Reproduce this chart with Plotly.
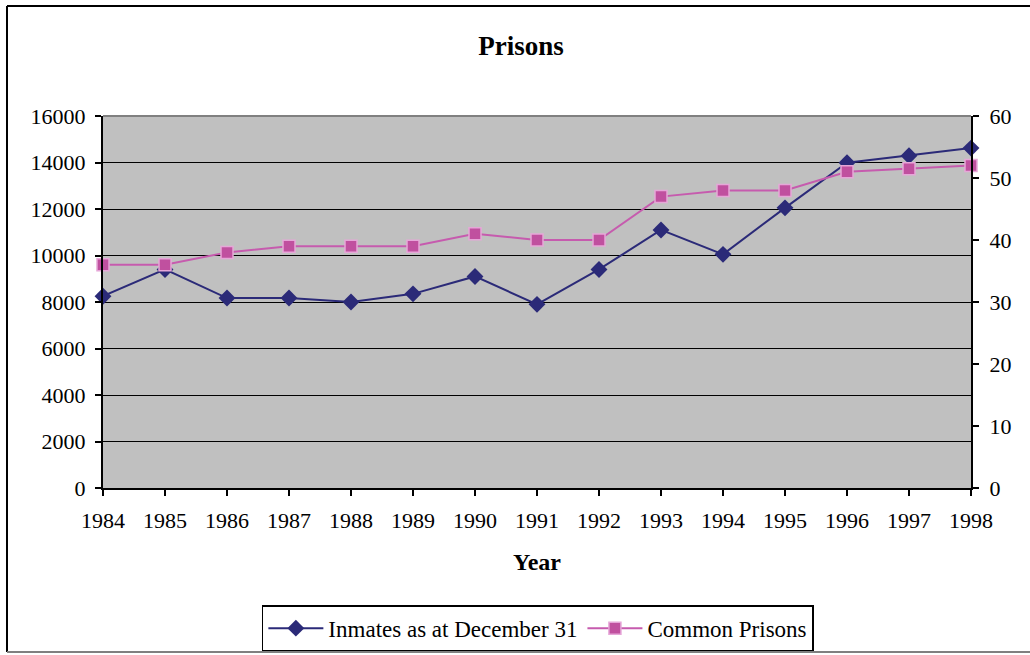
import plotly.graph_objects as go

years = list(range(1984, 1999))
inmates = [8250, 9400, 8170, 8170, 8000, 8350, 9100, 7900, 9400, 11100,
           10050, 12050, 13990, 14290, 14620]
common_prisons = [36, 36, 38, 39, 39, 39, 41, 40, 40, 47, 48, 48, 51, 51.5, 52]

serif = "Liberation Serif, Times New Roman, serif"

fig = go.Figure()
fig.add_trace(go.Scatter(
    x=years, y=inmates, name="Inmates as at December 31",
    mode="lines+markers", cliponaxis=False,
    line=dict(color="#2B2A78", width=2),
    marker=dict(symbol="diamond", size=13, color="#2B2A78"),
))
fig.add_trace(go.Scatter(
    x=years, y=common_prisons, name="Common Prisons", yaxis="y2",
    mode="lines+markers", cliponaxis=False,
    line=dict(color="#C65BAE", width=2),
    marker=dict(symbol="square", size=12, color="#C0509F",
                line=dict(color="#E6A6D8", width=1.5)),
))

axis_common = dict(zeroline=False, showline=True, linecolor="black", linewidth=2,
                   ticks="outside", ticklen=6, tickcolor="black", tickwidth=2,
                   automargin=False)

fig.update_layout(
    width=1030, height=655,
    margin=dict(l=103, r=59, t=116, b=167, autoexpand=False),
    paper_bgcolor="white", plot_bgcolor="#C0C0C0",
    font=dict(family=serif, size=22, color="black"),
    title=dict(text="<b>Prisons</b>", x=0.4816, xref="paper", xanchor="center",
               y=0.93, yanchor="middle", font=dict(size=27)),
    xaxis=dict(range=[1984, 1998], tickmode="linear", tick0=1984, dtick=1,
               showgrid=False, ticklabelstandoff=6,
               title=dict(text="<b>Year</b>", font=dict(size=24), standoff=21),
               **axis_common),
    yaxis=dict(range=[0, 16000], dtick=2000, tickformat="d", showgrid=True,
               gridcolor="black", gridwidth=1, ticklabelstandoff=5, **axis_common),
    yaxis2=dict(range=[0, 60], dtick=10, overlaying="y", side="right",
                showgrid=False, ticklabelstandoff=6, **axis_common),
    legend=dict(orientation="h", x=0.501, xanchor="center", y=-0.315, yanchor="top",
                bgcolor="white", bordercolor="black", borderwidth=1.5,
                font=dict(size=23), itemwidth=55),
    showlegend=True,
)

# outer chart frame and plot area top edge
fig.add_shape(type="line", xref="paper", yref="paper", x0=-0.1106, x1=-0.1106,
              y0=-0.441, y1=1.2957, line=dict(color="black", width=2))
fig.add_shape(type="line", xref="paper", yref="paper", x0=-0.1106, x1=1.08,
              y0=1.2957, y1=1.2957, line=dict(color="black", width=2))
fig.add_shape(type="line", xref="paper", yref="paper", x0=-0.1106, x1=1.08,
              y0=-0.441, y1=-0.441, line=dict(color="#808080", width=2))
fig.add_shape(type="line", xref="paper", yref="paper", x0=0, x1=1,
              y0=1, y1=1, line=dict(color="#808080", width=2))

fig.write_html("out.html", config={"displayModeBar": False},
               post_script="document.body.style.margin='0';")
